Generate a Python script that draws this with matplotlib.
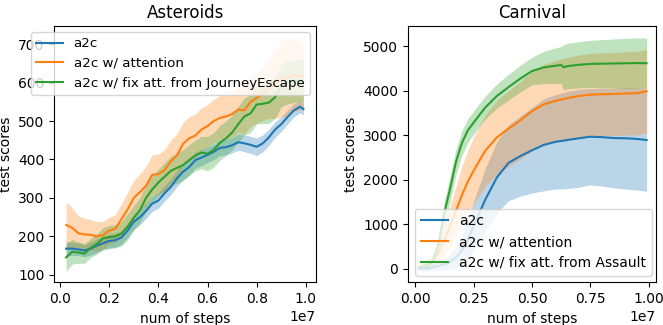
import numpy as np
import matplotlib
matplotlib.use("Agg")
import matplotlib.pyplot as plt

# ---- Asteroids (x in units of 1e7 steps) ----
ast_x = [0.025, 0.05, 0.075, 0.1, 0.125, 0.15, 0.175, 0.2, 0.225, 0.25,
         0.275, 0.3, 0.325, 0.35, 0.375, 0.4, 0.425, 0.45, 0.475, 0.5,
         0.525, 0.55, 0.575, 0.6, 0.625, 0.65, 0.675, 0.7, 0.725, 0.75,
         0.775, 0.8, 0.825, 0.85, 0.875, 0.9, 0.925, 0.95, 0.975, 0.99]

ast_a2c = [168, 168, 166, 163, 168, 176, 182, 188, 190, 197,
           215, 238, 250, 266, 285, 293, 312, 328, 350, 368,
           380, 398, 405, 412, 420, 430, 432, 437, 445, 442,
           438, 433, 442, 458, 478, 492, 510, 527, 537, 531]
ast_a2c_err = [18, 17, 16, 16, 17, 18, 18, 18, 18, 18,
               19, 20, 20, 20, 20, 20, 20, 20, 21, 21,
               21, 21, 21, 20, 20, 20, 20, 20, 21, 22,
               22, 23, 22, 21, 20, 19, 18, 17, 16, 15]

ast_att = [230, 222, 208, 205, 204, 200, 203, 215, 220, 245,
           270, 300, 315, 332, 360, 362, 372, 395, 410, 440,
           455, 462, 478, 487, 500, 508, 512, 518, 530, 528,
           550, 560, 572, 585, 595, 610, 612, 620, 617, 617]
ast_att_err = [60, 52, 45, 42, 40, 38, 36, 35, 36, 40,
               44, 46, 48, 50, 52, 52, 54, 55, 56, 56,
               56, 56, 56, 55, 56, 58, 60, 60, 60, 62,
               64, 66, 70, 78, 88, 100, 100, 95, 88, 82]

ast_fix = [145, 160, 158, 155, 170, 180, 195, 198, 200, 207,
           225, 248, 268, 300, 322, 340, 355, 370, 378, 385,
           398, 410, 418, 415, 425, 443, 455, 470, 492, 512,
           520, 543, 545, 548, 562, 592, 600, 604, 605, 605]
ast_fix_err = [36, 32, 28, 25, 25, 26, 28, 30, 30, 32,
               34, 32, 33, 35, 35, 35, 37, 38, 40, 40,
               40, 40, 42, 45, 45, 45, 45, 45, 47, 48,
               50, 50, 52, 54, 55, 55, 56, 56, 55, 55]

# ---- Carnival ----
carn_x = [0.015, 0.05, 0.075, 0.1, 0.125, 0.15, 0.175, 0.2, 0.225, 0.25,
          0.3, 0.35, 0.4, 0.45, 0.5, 0.55, 0.6, 0.625, 0.635, 0.65,
          0.7, 0.75, 0.8, 0.85, 0.9, 0.95, 0.99]

carn_a2c = [0, 10, 30, 60, 100, 150, 250, 400, 650, 950,
            1550, 2050, 2380, 2530, 2660, 2780, 2850, 2870, 2875, 2890,
            2930, 2965, 2955, 2935, 2930, 2915, 2890]
carn_a2c_err = [40, 60, 80, 100, 130, 170, 230, 330, 450, 550,
                700, 800, 850, 900, 960, 1030, 1060, 1080, 1080, 1090,
                1100, 1080, 1100, 1120, 1140, 1150, 1150]

carn_att = [40, 90, 180, 350, 650, 950, 1300, 1650, 1950, 2200,
            2650, 2950, 3150, 3330, 3540, 3690, 3770, 3800, 3810, 3830,
            3880, 3910, 3920, 3925, 3935, 3945, 3985]
carn_att_err = [60, 100, 150, 250, 350, 450, 550, 650, 700, 750,
                800, 830, 850, 870, 885, 900, 905, 910, 910, 915,
                920, 925, 930, 930, 935, 940, 940]

carn_fix = [30, 60, 150, 550, 1250, 1800, 2400, 2820, 3100, 3280,
            3620, 3880, 4080, 4270, 4440, 4520, 4560, 4575, 4525, 4550,
            4580, 4600, 4605, 4610, 4615, 4620, 4615]
carn_fix_err = [50, 80, 120, 200, 250, 280, 280, 280, 270, 260,
                260, 270, 290, 300, 310, 360, 400, 415, 505, 510,
                520, 530, 540, 550, 560, 565, 565]

colors = ["#1f77b4", "#ff7f0e", "#2ca02c"]


def draw(ax, x, series, labels):
    x = np.array(x) * 1e7
    for (mean, err), label, c in zip(series, labels, colors):
        mean = np.array(mean, dtype=float)
        err = np.array(err, dtype=float)
        ax.plot(x, mean, color=c, lw=1.5, label=label)
        ax.fill_between(x, mean - err, mean + err, color=c, alpha=0.3, lw=0)
    ax.set_xlabel("num of steps", fontsize=10)
    ax.set_ylabel("test scores", fontsize=10)
    ax.tick_params(labelsize=10)


fig = plt.figure(figsize=(6.63, 3.25), dpi=100)
ax1 = fig.add_axes([0.0819, 0.1308, 0.3947, 0.789])
ax2 = fig.add_axes([0.6154, 0.1308, 0.374, 0.789])

draw(ax1, ast_x,
     [(ast_a2c, ast_a2c_err), (ast_att, ast_att_err), (ast_fix, ast_fix_err)],
     ["a2c", "a2c w/ attention", "a2c w/ fix att. from JourneyEscape"])
ax1.set_title("Asteroids", fontsize=12)
ax1.set_xlim(-0.023e7, 1.041e7)
ax1.set_ylim(80, 747)
ax1.set_xticks(np.arange(0, 1.01, 0.2) * 1e7)
ax1.set_yticks([100, 200, 300, 400, 500, 600, 700])
ax1.legend(loc="upper left", bbox_to_anchor=(-0.089, 0.977),
           borderaxespad=0, fontsize=9.6)

draw(ax2, carn_x,
     [(carn_a2c, carn_a2c_err), (carn_att, carn_att_err), (carn_fix, carn_fix_err)],
     ["a2c", "a2c w/ attention", "a2c w/ fix att. from Assault"])
ax2.set_title("Carnival", fontsize=12)
ax2.set_xlim(-0.030e7, 1.030e7)
ax2.set_ylim(-309, 5450)
ax2.set_xticks(np.arange(0, 1.01, 0.25) * 1e7)
ax2.legend(loc="lower left", fontsize=10)

fig.savefig("out.png", dpi=100)
